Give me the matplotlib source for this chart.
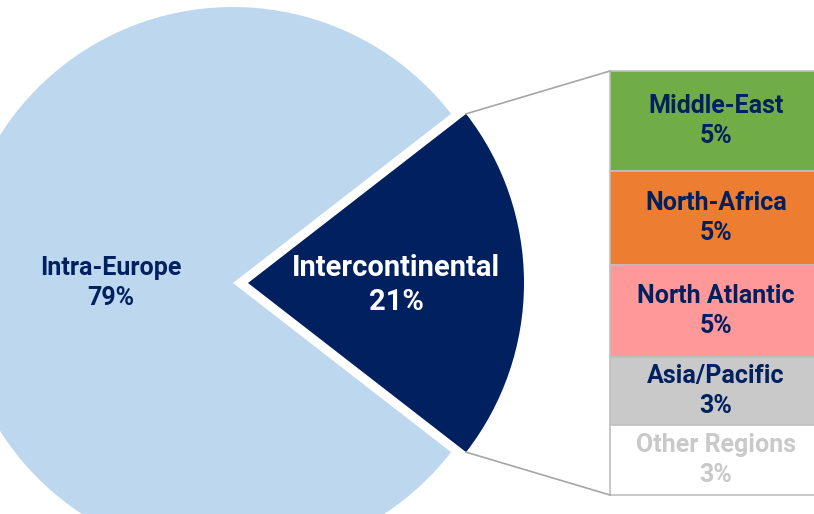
import numpy as np
import matplotlib
matplotlib.use("Agg")
import matplotlib.pyplot as plt

# pie data
pie_labels = ["Intra-Europe", "Intercontinental"]
pie_values = [79, 21]
pie_colors = ["#BDD7EE", "#002060"]
pie_text_colors = ["#002060", "white"]

# breakdown of intercontinental (top to bottom)
bar_labels = ["Middle-East", "North-Africa", "North Atlantic", "Asia/Pacific", "Other Regions"]
bar_values = [4.95, 4.6, 4.55, 3.35, 3.45]
bar_pct = ["5%", "5%", "5%", "3%", "3%"]
bar_colors = ["#70AD47", "#ED7D31", "#FF9999", "#C9C9C9", "#FFFFFF"]
bar_text_colors = ["#002060", "#002060", "#002060", "#002060", "#C9C9C9"]

W, H = 814, 514
plt.rcParams["font.family"] = ["Roboto", "DejaVu Sans"]

fig = plt.figure(figsize=(W / 100, H / 100), dpi=100)
ax = fig.add_axes([0, 0, 1, 1])

# pie in pixel units, y up
cx, cy, r = 233, H - 283, 276
shift = 15
half = 360 * pie_values[1] / sum(pie_values) / 2
wedges, _ = ax.pie(pie_values, colors=pie_colors, center=(cx, cy), radius=r,
                   startangle=half, counterclock=True,
                   explode=[0, shift], frame=True)
ax.set_xlim(0, W)
ax.set_ylim(0, H)
ax.set_aspect("equal")
ax.axis("off")

ax.text(111, cy, pie_labels[0] + "\n" + "%d%%" % pie_values[0], ha="center", va="center",
        fontsize=18, fontweight="bold", color=pie_text_colors[0], linespacing=1.3)
ax.text(396, cy - 2, pie_labels[1] + "\n" + "%d%%" % pie_values[1], ha="center", va="center",
        fontsize=21, fontweight="bold", color=pie_text_colors[1], linespacing=1.3)

# stacked bar
bar_left, bar_right = 610, 824
bar_top, bar_bot = H - 71, H - 495
scale = (bar_top - bar_bot) / sum(bar_values)
top = bar_top
for lab, v, pct, c, tc in zip(bar_labels, bar_values, bar_pct, bar_colors, bar_text_colors):
    h = v * scale
    ax.bar(bar_left, h, width=bar_right - bar_left, bottom=top - h, align="edge",
           color=c, edgecolor="#BFBFBF", linewidth=1.2, clip_on=False)
    ax.text(716, top - h / 2, lab + "\n" + pct, ha="center", va="center",
            fontsize=18, fontweight="bold", color=tc, linespacing=1.3)
    top -= h

# connector lines from exploded wedge corners
tipx = cx + shift
for ang, by in [(half, bar_top), (-half, bar_bot)]:
    px = tipx + r * np.cos(np.radians(ang))
    py = cy + r * np.sin(np.radians(ang))
    ax.plot([px, bar_left], [py, by], color="#A6A6A6", linewidth=1.2)

fig.savefig("out.png", dpi=100)
